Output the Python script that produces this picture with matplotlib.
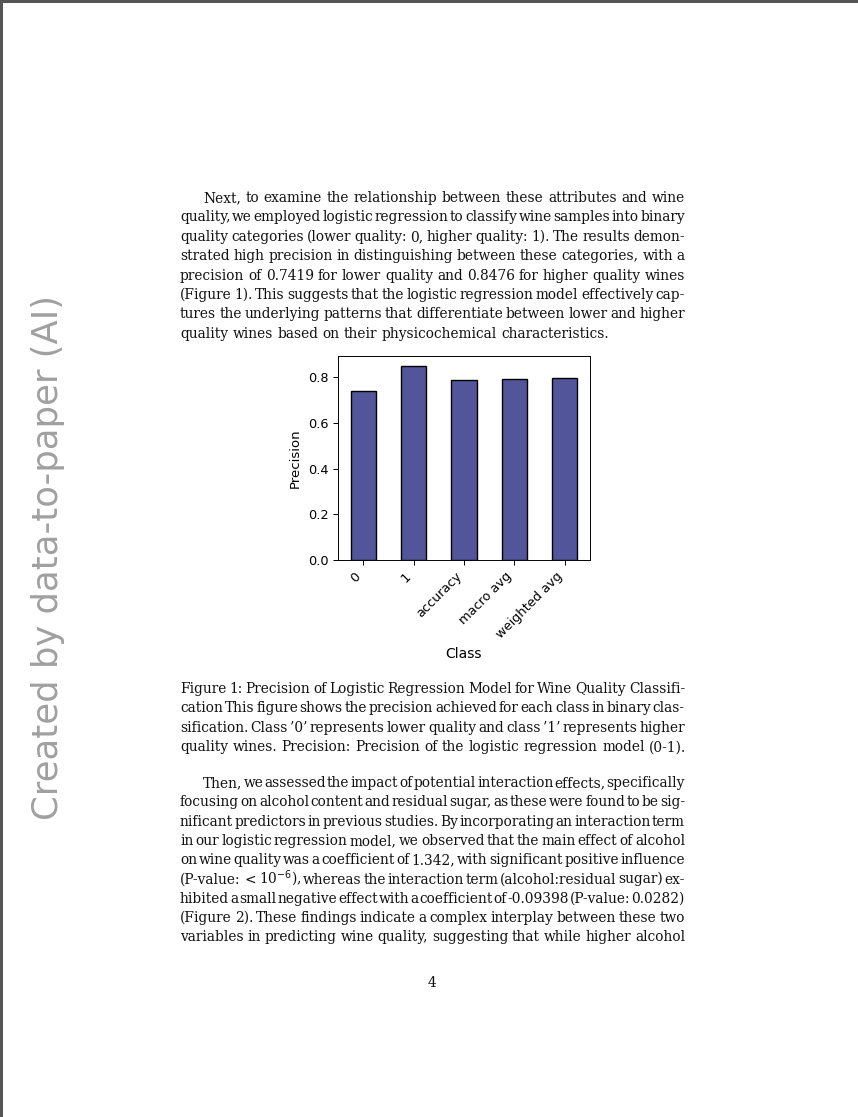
import matplotlib.pyplot as plt
from matplotlib.patches import Rectangle

W, H = 858, 1117

classes = ['0', '1', 'accuracy', 'macro avg', 'weighted avg']
precision = [0.7419, 0.8476, 0.788, 0.792, 0.795]

para1 = [
    "Next, to examine the relationship between these attributes and wine",
    "quality, we employed logistic regression to classify wine samples into binary",
    "quality categories (lower quality: 0, higher quality: 1). The results demon-",
    "strated high precision in distinguishing between these categories, with a",
    "precision of 0.7419 for lower quality and 0.8476 for higher quality wines",
    "(Figure 1). This suggests that the logistic regression model effectively cap-",
    "tures the underlying patterns that differentiate between lower and higher",
    "quality wines based on their physicochemical characteristics.",
]
caption = [
    "Figure 1: Precision of Logistic Regression Model for Wine Quality Classifi-",
    "cation This figure shows the precision achieved for each class in binary clas-",
    "sification. Class \u20190\u2019 represents lower quality and class \u20191\u2019 represents higher",
    "quality wines. Precision: Precision of the logistic regression model (0-1).",
]
para2 = [
    "Then, we assessed the impact of potential interaction effects, specifically",
    "focusing on alcohol content and residual sugar, as these were found to be sig-",
    "nificant predictors in previous studies. By incorporating an interaction term",
    "in our logistic regression model, we observed that the main effect of alcohol",
    "on wine quality was a coefficient of 1.342, with significant positive influence",
    "(P-value: $<$ 10$^{-6}$), whereas the interaction term (alcohol:residual sugar) ex-",
    "hibited a small negative effect with a coefficient of -0.09398 (P-value: 0.0282)",
    "(Figure 2). These findings indicate a complex interplay between these two",
    "variables in predicting wine quality, suggesting that while higher alcohol",
]

fig = plt.figure(figsize=(W / 100, H / 100), dpi=100)
renderer = fig.canvas.get_renderer()
font = dict(family='DejaVu Serif', size=9.9, color='#111111')


def fx(x):
    return x / W


def fy(y):
    return 1 - y / H


def text_width(s):
    t = fig.text(0, 0, s, **font)
    w = t.get_window_extent(renderer).width
    t.remove()
    return w


SPACE = text_width('a a') - text_width('aa')


def put_line(line, x0, x1, y, justify):
    words = line.split(' ')
    arts = []
    widths = []
    for w in words:
        t = fig.text(fx(x0), fy(y), w, va='baseline', ha='left', **font)
        widths.append(t.get_window_extent(renderer).width)
        arts.append(t)
    if justify and len(words) > 1:
        gap = (x1 - x0 - sum(widths)) / (len(words) - 1)
    else:
        gap = SPACE
    x = x0
    for t, w in zip(arts, widths):
        t.set_x(fx(x))
        x += w + gap


def paragraph(lines, y0, dy, indent, last_justified=False):
    for i, line in enumerate(lines):
        x0 = 203 if (i == 0 and indent) else 180
        just = i < len(lines) - 1 or last_justified
        put_line(line, x0, 685, y0 + i * dy, just)


paragraph(para1, 202, 19.4, True)
paragraph(caption, 693, 19.4, False)
paragraph(para2, 787, 19.3, True, last_justified=True)

fig.text(fx(432), fy(987), '4', ha='center', va='baseline', **font)

fig.text(fx(48), fy(557), 'Created by data-to-paper (AI)', rotation=90,
         ha='center', va='center', family='DejaVu Sans', size=25.5, color='#a0a0a0')

# page borders
fig.add_artist(Rectangle((0, 1 - 3 / H), 1, 3 / H, transform=fig.transFigure,
                         color='#555555', lw=0))
fig.add_artist(Rectangle((0, 0), 3 / W, 1, transform=fig.transFigure,
                         color='#555555', lw=0))

ax = fig.add_axes([fx(338), fy(560), (590 - 338) / W, (560 - 356) / H])
ax.bar(range(len(classes)), precision, width=0.5, color='#52559a',
       edgecolor='black', linewidth=1)
ax.set_xlim(-0.5, 4.5)
ax.set_ylim(0, 0.893)
ax.set_yticks([0.0, 0.2, 0.4, 0.6, 0.8])
ax.set_xticks(range(len(classes)))
ax.set_xticklabels(classes, rotation=45, ha='right', rotation_mode='default')
ax.tick_params(labelsize=9.3, length=3.5, width=0.7)
for s in ax.spines.values():
    s.set_linewidth(0.7)
ax.set_ylabel('Precision', fontsize=9.5)
ax.set_xlabel('Class', fontsize=10)

fig.savefig('out.png', dpi=100)
